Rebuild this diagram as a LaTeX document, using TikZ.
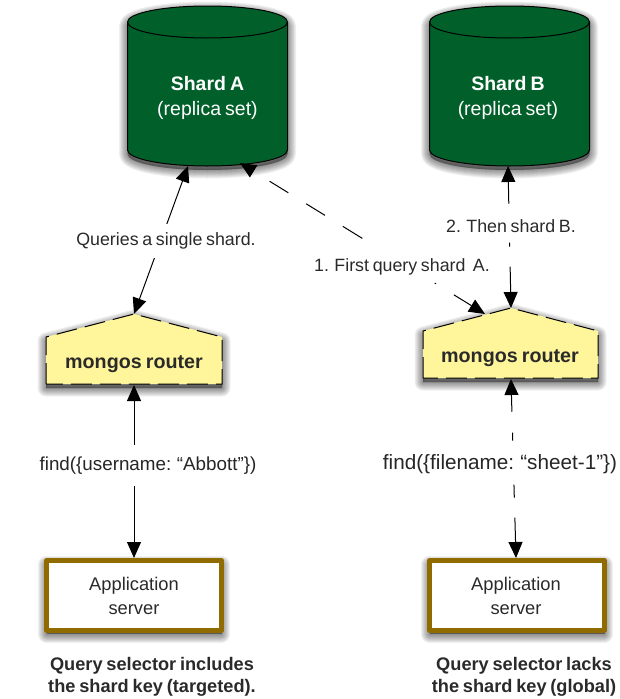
\documentclass[tikz,border=0pt]{standalone}
\usepackage{fontspec}
\setmainfont[WordSpace=0.75]{Liberation Sans}
\usetikzlibrary{arrows.meta}
\definecolor{shardgreen}{HTML}{01602A}
\definecolor{routeryellow}{HTML}{FFF59B}
\definecolor{serverbrown}{HTML}{8F6B00}
\definecolor{inktext}{HTML}{2A2A2A}
\newcommand{\softshade}[1]{%
  \foreach \w in {17,15,13,11,9,7,5,3,1}{
    \path[fill=black,draw=black,opacity=.06,line width=\w pt,line join=round,yshift=-4pt] #1;
  }}
\newcommand{\cylpath}[2]{(#1-#2,22) -- (#1-#2,150) .. controls (#1-#2,159) and (#1-#2*0.55,166) .. (#1,166) .. controls (#1+#2*0.55,166) and (#1+#2,159) .. (#1+#2,150) -- (#1+#2,22) .. controls (#1+#2,13) and (#1+#2*0.55,6) .. (#1,6) .. controls (#1-#2*0.55,6) and (#1-#2,13) .. (#1-#2,22) -- cycle}
\newcommand{\cyllip}[2]{(#1-#2,22) .. controls (#1-#2,31) and (#1-#2*0.55,38) .. (#1,38) .. controls (#1+#2*0.55,38) and (#1+#2,31) .. (#1+#2,22)}
\tikzset{
  conn/.style={draw=black,line width=1pt,{Triangle[length=16pt,width=14pt]}-{Triangle[length=16pt,width=14pt]}},
  lab/.style={text=inktext,font=\fontsize{17.8}{20}\selectfont,inner sep=0pt,align=center},
  shardtext/.style={text=white,font=\fontsize{19.5}{24.5}\selectfont,align=center,inner sep=0pt},
  routertext/.style={text=inktext,font=\bfseries\fontsize{19.7}{22}\selectfont,inner sep=0pt},
  servertext/.style={text=inktext,font=\fontsize{18.3}{23.5}\selectfont,align=center,inner sep=0pt},
  serverbox/.style={draw=serverbrown,line width=5pt,fill=white,line join=round},
  findtext/.style={text=black!85,inner sep=0pt,fill=white},
  captiontext/.style={text=inktext,font=\bfseries\fontsize{18.2}{21.5}\selectfont,align=center,inner sep=0pt},
  routeredge/.style={line width=1pt,dash pattern=on 21pt off 8pt},
}
\begin{document}
\begin{tikzpicture}[x=1pt,y=-1pt]
\useasboundingbox (0,0) rectangle (619,699);
% shard A
\softshade{\cylpath{207.5}{80}}
\draw[fill=shardgreen,line width=1pt] \cylpath{207.5}{80};
\draw[line width=1pt] \cyllip{207.5}{80};
% shard B
\softshade{\cylpath{509.5}{80}}
\draw[fill=shardgreen,line width=1pt] \cylpath{509.5}{80};
\draw[line width=1pt] \cyllip{509.5}{80};
% routers
\softshade{(46,337) -- (134,314) -- (222,337) -- (222,384) -- (46,384) -- cycle}
\fill[routeryellow] (46,337) -- (134,314) -- (222,337) -- (222,384) -- (46,384) -- cycle;
\draw[routeredge] (46,384) -- (46,337) -- (134,314) -- (222,337) -- (222,384) -- cycle;
\softshade{(423,331) -- (511,308) -- (598,331) -- (598,378) -- (423,378) -- cycle}
\fill[routeryellow] (423,331) -- (511,308) -- (598,331) -- (598,378) -- (423,378) -- cycle;
\draw[routeredge] (423,378) -- (423,331) -- (511,308) -- (598,331) -- (598,378) -- cycle;
% servers
\softshade{(46.5,560.5) rectangle (221.5,630)}
\draw[serverbox] (46.5,560.5) rectangle (221.5,630);
\softshade{(429.5,560.5) rectangle (604.5,630)}
\draw[serverbox] (429.5,560.5) rectangle (604.5,630);
% named ends
\coordinate (shardAfoot) at (188,166);
\coordinate (shardAcorner) at (240,163);
\coordinate (shardBfoot) at (508,166);
\coordinate (routerAtop) at (134,314);
\coordinate (routerAbase) at (134,385);
\coordinate (routerBtop) at (511,308);
\coordinate (routerBside) at (485,314);
\coordinate (routerBbase) at (511,379);
\coordinate (serverAtop) at (134,558);
\coordinate (serverBtop) at (516,558);
% text nodes
\node[shardtext] (shardA) at (207.5,98) {\textbf{Shard A}\\(replica set)};
\node[shardtext] (shardB) at (508,98) {\textbf{Shard B}\\(replica set)};
\node[routertext] (routerA) at (134,364) {mongos router};
\node[routertext] (routerB) at (510,358) {mongos router};
\node[servertext] (serverA) at (134,596) {Application\\server};
\node[servertext] (serverB) at (516,596) {Application\\server};
% connectors
\draw[conn] (shardAfoot) -- (routerAtop);
\draw[conn] (routerAbase) -- (serverAtop);
\draw[conn,dash pattern=on 0pt off 19pt on 22pt off 21pt on 22pt off 21pt on 23pt off 85pt on 1.5pt off 21pt on 60pt] (shardAcorner) -- (routerBside);
\draw[conn,dash pattern=on 22pt off 39pt on 4pt off 20pt on 60pt] (shardBfoot) -- (routerBtop);
\draw[conn,dash pattern=on 17pt off 21pt on 8pt off 44pt on 13pt off 20pt on 60pt] (routerBbase) -- (serverBtop);
% connector labels
\node[lab,fill=white,minimum height=34pt] (lblSingle) at (166,241) {Queries a single shard.};
\node[lab] (lblFirst) at (402,267) {1. First query shard\ \ A.};
\node[lab] (lblThen) at (511,226) {2. Then shard B.};
\node[findtext,font=\fontsize{18.8}{22}\selectfont,minimum height=41pt] (findA) at (148,465.5) {find(\{username: “Abbott”\})};
\node[findtext,font=\fontsize{20.7}{24}\selectfont,minimum height=26pt] (findB) at (500,464) {find(\{filename: “sheet-1”\})};
% captions
\node[captiontext] (capA) at (152,677) {Query selector includes\\the shard key (targeted).};
\node[captiontext] (capB) at (524,677) {Query selector lacks\\the shard key (global)};
\end{tikzpicture}
\end{document}
